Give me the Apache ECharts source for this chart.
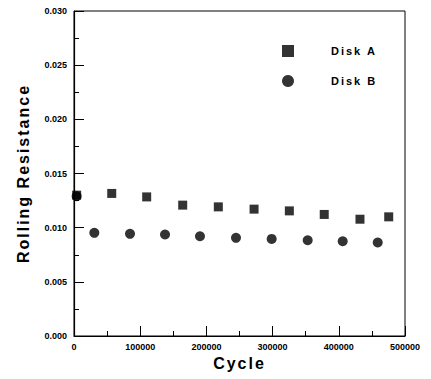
<!DOCTYPE html>
<html>
<head>
<meta charset="utf-8">
<script src="https://cdn.jsdelivr.net/npm/echarts@6/dist/echarts.min.js"></script>
<style>
  html, body { margin: 0; padding: 0; background: #fff; }
  #chart { width: 431px; height: 379px; }
  /* spaced-out bold lettering like the scanned figure */
  #chart text[style*="16px"] { letter-spacing: 2px; }
  #chart text[style*="11px"] { letter-spacing: 2px; }
</style>
</head>
<body>
<div id="chart"></div>
<script>
// Disk A (squares)
const cycleA = [4000, 57000, 109800, 164200, 218000, 272000, 325300, 378000, 432000, 475400];
const resistA = [0.0130, 0.01316, 0.01284, 0.01208, 0.01192, 0.01171, 0.01155, 0.01122, 0.01078, 0.0110];
// Disk B (circles)
const cycleB = [4000, 30700, 84600, 137500, 190300, 244700, 298600, 353000, 405900, 458800];
const resistB = [0.0129, 0.00952, 0.00943, 0.00937, 0.00921, 0.00906, 0.00896, 0.00884, 0.00875, 0.00863];

const seriesNames = ["Disk A", "Disk B"];

const font = "Liberation Sans";
const chart = echarts.init(document.getElementById("chart"), null, { renderer: "svg" });

const axisCommon = {
  axisLine: { lineStyle: { color: "#000", width: 1.2 } },
  axisTick: { inside: true, length: 10, lineStyle: { color: "#000", width: 1 } },
  minorTick: { show: true, splitNumber: 2, length: 5, lineStyle: { color: "#000", width: 1 } },
  splitLine: { show: false },
  nameTextStyle: { fontFamily: font, fontWeight: "bold", fontSize: 16, color: "#000" },
};

const option = {
  animation: false,
  backgroundColor: "#fff",
  grid: {
    left: 74,
    right: 26,
    top: 11,
    bottom: 43,
    show: true,
    borderColor: "#000",
    borderWidth: 1,
  },
  legend: {
    orient: "vertical",
    left: 277,
    top: 40,
    itemWidth: 12,
    itemHeight: 12,
    itemGap: 18,
    data: [
      { name: seriesNames[0], icon: "rect" },
      { name: seriesNames[1], icon: "circle" },
    ],
    textStyle: {
      fontFamily: font,
      fontWeight: "bold",
      fontSize: 11,
      color: "#000",
      padding: [0, 0, 0, 32],
    },
  },
  xAxis: {
    ...axisCommon,
    type: "value",
    min: 0,
    max: 500000,
    interval: 100000,
    name: "Cycle",
    nameLocation: "middle",
    nameGap: 19,
    axisLabel: {
      margin: 6,
      fontFamily: font,
      fontWeight: "bold",
      fontSize: 9,
      color: "#000",
      formatter: (v) => String(v),
    },
  },
  yAxis: {
    ...axisCommon,
    type: "value",
    min: 0,
    max: 0.03,
    interval: 0.005,
    name: "Rolling Resistance",
    nameLocation: "middle",
    nameRotate: 90,
    nameGap: 43,
    axisLabel: {
      margin: 7,
      fontFamily: font,
      fontWeight: "bold",
      fontSize: 9,
      color: "#000",
      formatter: (v) => v.toFixed(3),
    },
  },
  series: [
    {
      name: seriesNames[0],
      type: "scatter",
      symbol: "rect",
      symbolSize: 9,
      clip: false,
      itemStyle: { color: "#000" },
      data: cycleA.map((c, i) => [c, resistA[i]]),
    },
    {
      name: seriesNames[1],
      type: "scatter",
      symbol: "circle",
      symbolSize: 10,
      clip: false,
      itemStyle: { color: "#000" },
      data: cycleB.map((c, i) => [c, resistB[i]]),
    },
  ],
};

chart.setOption(option);
</script>
</body>
</html>
